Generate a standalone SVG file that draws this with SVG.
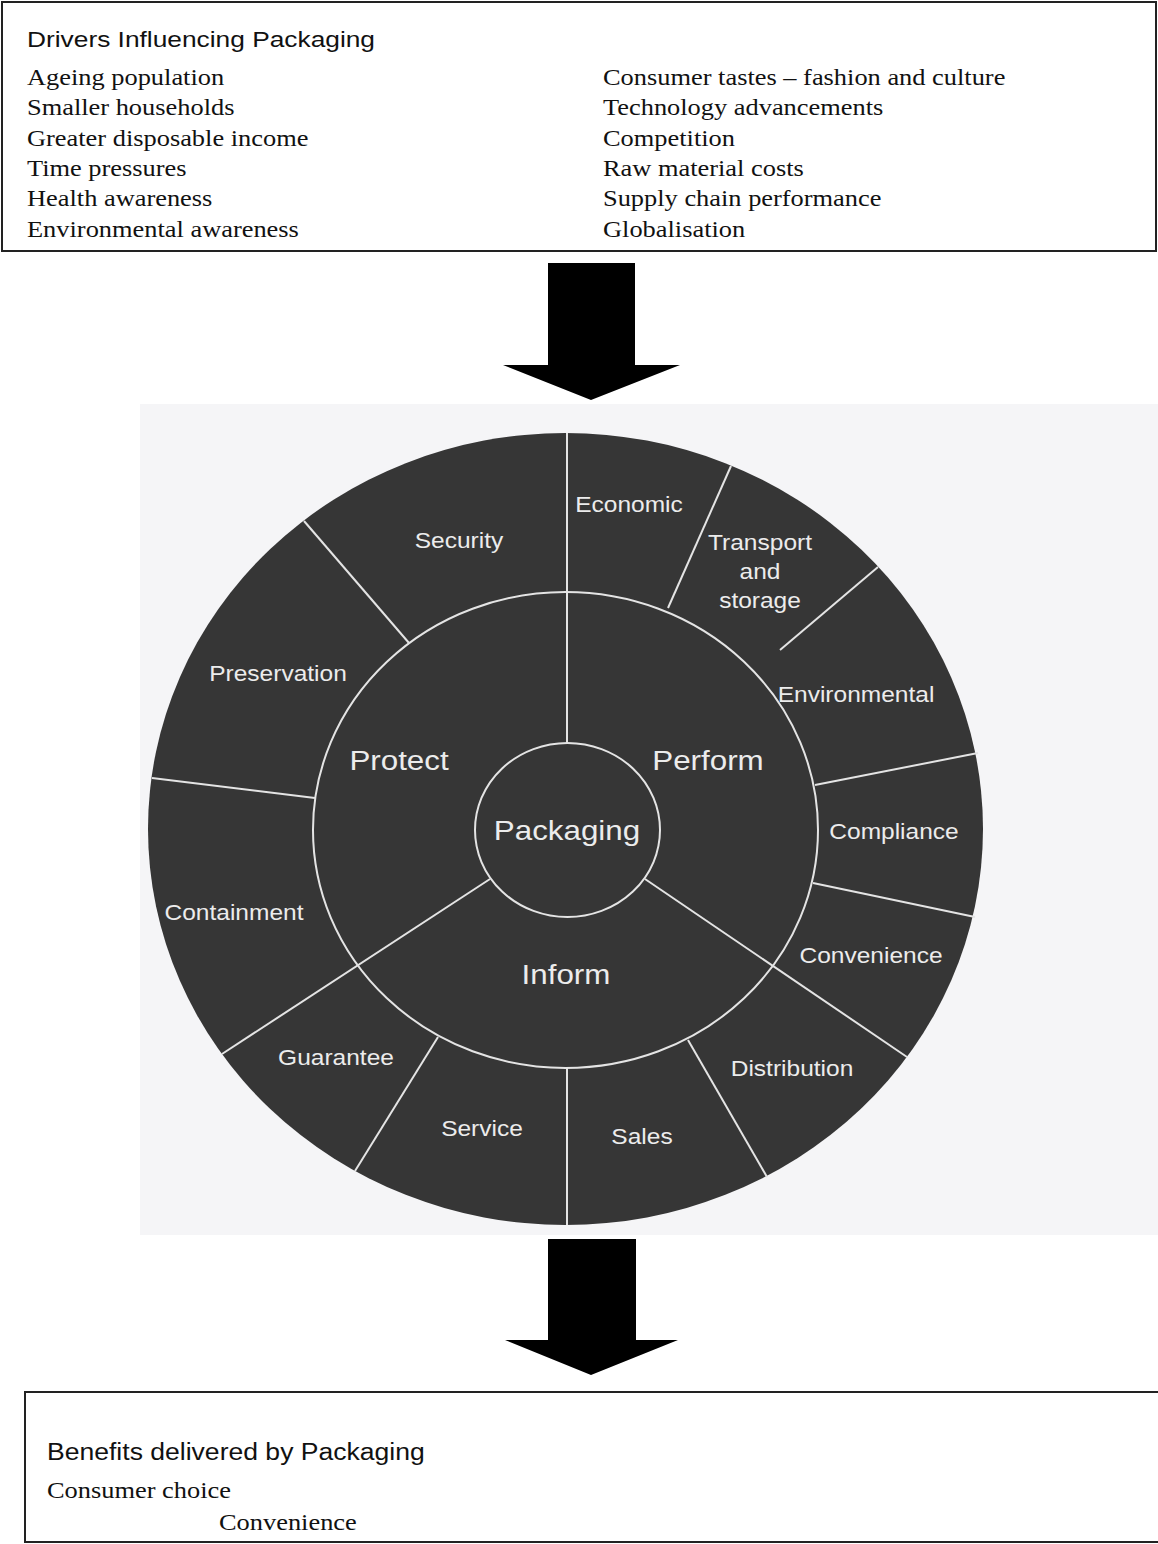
<svg xmlns="http://www.w3.org/2000/svg" width="1158" height="1544" viewBox="0 0 1158 1544">
<style>
.box{fill:#ffffff;stroke:#222;stroke-width:2}
.head{font-family:"Liberation Sans",Arial,sans-serif;fill:#111}
.item{font-family:"Liberation Serif","Times New Roman",serif;font-size:24px;fill:#111}
.wheel{fill:#363636}
.sep{fill:none;stroke:#e4e4e4;stroke-width:2}
.lbl{font-family:"Liberation Sans",Arial,sans-serif;font-size:22.5px;fill:#ececec;text-anchor:middle}
.big{font-family:"Liberation Sans",Arial,sans-serif;font-size:28.5px;fill:#ececec;text-anchor:middle}
.arrow{fill:#000}
</style>
<rect width="1158" height="1544" fill="#ffffff"/>
<g id="drivers">
<rect class="box" x="2" y="2" width="1154" height="249"/>
<text class="head" font-size="22.5" transform="translate(27,47) scale(1.17,1)">Drivers Influencing Packaging</text>
<g transform="translate(27,0) scale(1.1,1)">
<text class="item" y="85">Ageing population</text>
<text class="item" y="115">Smaller households</text>
<text class="item" y="146">Greater disposable income</text>
<text class="item" y="176">Time pressures</text>
<text class="item" y="206">Health awareness</text>
<text class="item" y="237">Environmental awareness</text>
</g>
<g transform="translate(603,0) scale(1.1,1)">
<text class="item" y="85">Consumer tastes – fashion and culture</text>
<text class="item" y="115">Technology advancements</text>
<text class="item" y="146">Competition</text>
<text class="item" y="176">Raw material costs</text>
<text class="item" y="206">Supply chain performance</text>
<text class="item" y="237">Globalisation</text>
</g>
</g>
<g id="wheel">
<rect x="140" y="404" width="1018" height="831" fill="#f5f5f7"/>
<ellipse class="wheel" cx="565.5" cy="829" rx="417.5" ry="396"/>
<ellipse class="sep" cx="565.5" cy="830" rx="252.5" ry="238"/>
<ellipse class="sep" cx="567.5" cy="830" rx="92.5" ry="87"/>
<g id="wheel-dividers">
<line class="sep" x1="567" y1="433" x2="567" y2="743"/>
<line class="sep" x1="567" y1="1068" x2="567" y2="1225"/>
<line class="sep" x1="304" y1="521" x2="409" y2="643"/>
<line class="sep" x1="668" y1="608" x2="731" y2="466"/>
<line class="sep" x1="780" y1="650" x2="878" y2="567"/>
<line class="sep" x1="152" y1="778" x2="315" y2="798"/>
<line class="sep" x1="815" y1="785" x2="978" y2="753"/>
<line class="sep" x1="813" y1="883" x2="975" y2="917"/>
<line class="sep" x1="490" y1="879" x2="222" y2="1054"/>
<line class="sep" x1="645" y1="879" x2="907" y2="1057"/>
<line class="sep" x1="438" y1="1037" x2="355" y2="1171"/>
<line class="sep" x1="688" y1="1040" x2="767" y2="1177"/>
</g>
<g id="center"><text class="big" transform="translate(567,840) scale(1.1,1)">Packaging</text></g>
<g id="protect"><text class="big" transform="translate(399,770) scale(1.1,1)">Protect</text></g>
<g id="perform"><text class="big" transform="translate(708,770) scale(1.1,1)">Perform</text></g>
<g id="inform"><text class="big" transform="translate(566,984) scale(1.1,1)">Inform</text></g>
<g id="economic"><text class="lbl" transform="translate(629,512) scale(1.09,1)">Economic</text></g>
<g id="security"><text class="lbl" transform="translate(459,548) scale(1.09,1)">Security</text></g>
<g id="transport"><text class="lbl" transform="translate(760,550) scale(1.09,1)">Transport</text><text class="lbl" transform="translate(760,579) scale(1.09,1)">and</text><text class="lbl" transform="translate(760,608) scale(1.09,1)">storage</text></g>
<g id="preservation"><text class="lbl" transform="translate(278,681) scale(1.09,1)">Preservation</text></g>
<g id="environmental"><text class="lbl" transform="translate(856,702) scale(1.09,1)">Environmental</text></g>
<g id="compliance"><text class="lbl" transform="translate(894,839) scale(1.09,1)">Compliance</text></g>
<g id="containment"><text class="lbl" transform="translate(234,920) scale(1.09,1)">Containment</text></g>
<g id="convenience"><text class="lbl" transform="translate(871,963) scale(1.09,1)">Convenience</text></g>
<g id="guarantee"><text class="lbl" transform="translate(336,1065) scale(1.09,1)">Guarantee</text></g>
<g id="distribution"><text class="lbl" transform="translate(792,1076) scale(1.09,1)">Distribution</text></g>
<g id="service"><text class="lbl" transform="translate(482,1136) scale(1.09,1)">Service</text></g>
<g id="sales"><text class="lbl" transform="translate(642,1144) scale(1.09,1)">Sales</text></g>
</g>
<g id="benefits">
<rect class="box" x="25" y="1392" width="1150" height="150"/>
<text class="head" font-size="23.5" transform="translate(47,1460) scale(1.13,1)">Benefits delivered by Packaging</text>
<text class="item" transform="translate(47,1498) scale(1.1,1)">Consumer choice</text>
<text class="item" transform="translate(219,1530) scale(1.1,1)">Convenience</text>
</g>
<g id="connectors">
<polygon class="arrow" points="548,263 635,263 635,365 680,365 591,400 503,365 548,365"/>
<polygon class="arrow" points="548,1239 636,1239 636,1340 678,1340 591,1375 505,1340 548,1340"/>
</g>
</svg>
